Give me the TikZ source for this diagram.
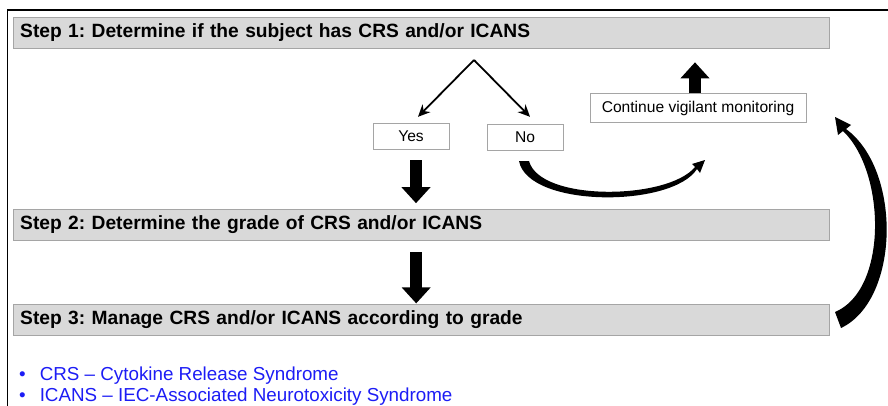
\documentclass[tikz,border=0pt]{standalone}
\usepackage{fontspec}
\setmainfont{Liberation Sans}
\frenchspacing
\usepackage{tikz}
\usetikzlibrary{arrows.meta,calc,positioning}
\definecolor{boxgray}{RGB}{217,217,217}
\definecolor{edgegray}{RGB}{165,165,165}
\definecolor{linkblue}{RGB}{28,28,245}
\tikzset{>=Stealth}
\tikzset{%
    stepbox/.style={%
        draw=edgegray, fill=boxgray, anchor=north west,
        minimum height=31pt, text width=802pt, inner xsep=7pt,
        align=left, font=\bfseries\fontsize{19.2}{21}\selectfont
    },
    answer/.style={%
        draw=edgegray, fill=white, minimum height=26pt,
        font=\fontsize{15.6}{18}\selectfont
    },
    abbrev/.style={%
        anchor=base west, inner sep=0pt, text=linkblue,
        font=\fontsize{18.8}{22}\selectfont
    },
    thinarrow/.style={line width=1.8pt, -{Stealth[length=12pt,width=11pt]}},
    bigarrow/.style={line width=12pt, -{Triangle[length=16pt,width=28pt]}}
}

\begin{document}
\begin{tikzpicture}[x=1pt,y=-1pt]
\useasboundingbox (0,0) rectangle (888,405);
\clip (0,0) rectangle (888,405);
% outer frame
\draw[line width=1.3pt] (7,10) -- (900,10);
\draw[line width=1pt] (7,10) -- (7,420);

% the three steps
\node[stepbox] (step1) at (13,17)  {Step 1: Determine if the subject has CRS and/or ICANS};
\node[stepbox] (step2) at (13,209) {Step 2: Determine the grade of CRS and/or ICANS};
\node[stepbox] (step3) at (13,304) {Step 3: Manage CRS and/or ICANS according to grade};

% yes / no
\coordinate (apex) at (474,60);
\node[answer, minimum width=76pt] (yes) at (411,136) {Yes};
\node[answer, minimum width=76pt] (no)  at (525,137) {No};
\node[answer, minimum width=216pt, minimum height=29pt] (cont) at (698,108) {Continue vigilant monitoring};

\draw[thinarrow] (apex) -- ($(yes.north)+(7,-6)$);
\draw[thinarrow] (apex) -- ($(no.north)+(5,-7)$);

\draw[bigarrow] ($(yes.south)+(5,11)$) -- ++(0,43);
\draw[bigarrow] ($(step2.south)+(-5,12)$) -- ++(0,51);
\draw[bigarrow] ($(cont.north)+(-3,0)$) -- ++(0,-31);

% curved arrows
\fill (519,161) .. controls (528,208) and (672,208) .. (697,169)
    -- (700,173) -- (705,160) -- (692,164) -- (695,167)
    .. controls (668,200) and (540,202) .. (529,161) -- cycle;
\fill (841,328) .. controls (900,300) and (902,170) .. (846,129)
    -- (851,125) -- (835,117) -- (838,135) -- (843,131)
    .. controls (886,172) and (888,290) .. (835,312) -- cycle;

% abbreviations
\node[abbrev] (abbr1) at (19,380) {\textbullet\hspace{14pt}CRS -- Cytokine Release Syndrome};
\node[abbrev] (abbr2) at (19,401) {\textbullet\hspace{14pt}ICANS -- IEC-Associated Neurotoxicity Syndrome};
\end{tikzpicture}
\end{document}
